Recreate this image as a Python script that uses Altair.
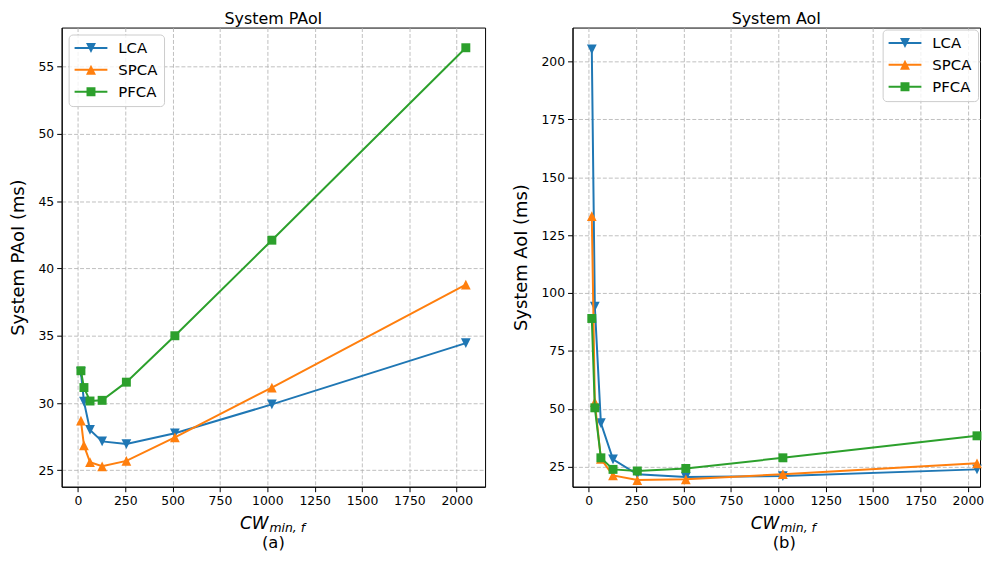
import altair as alt
import pandas as pd

# ---------------- data ----------------
cw = [16, 32, 64, 128, 256, 512, 1024, 2048]
series = ["LCA", "SPCA", "PFCA"]
colors = ["#1f77b4", "#ff7f0e", "#2ca02c"]

paoi_lca = [32.3, 30.1, 28.0, 27.15, 26.95, 27.75, 29.9, 34.45]
paoi_spca = [28.7, 26.85, 25.6, 25.3, 25.7, 27.45, 31.15, 38.8]
paoi_pfca = [32.4, 31.15, 30.15, 30.2, 31.55, 35.0, 42.1, 56.4]

aoi_lca = [205.3, 94.1, 43.8, 28.1, 21.7, 20.5, 20.9, 23.8]
aoi_spca = [133.2, 52.9, 28.3, 21.2, 19.2, 19.5, 21.7, 26.4]
aoi_pfca = [89.0, 50.4, 28.8, 23.8, 23.1, 24.2, 28.8, 38.3]

x_ticks = [0, 250, 500, 750, 1000, 1250, 1500, 1750, 2000]
paoi_ticks = [25, 30, 35, 40, 45, 50, 55]
aoi_ticks = [25, 50, 75, 100, 125, 150, 175, 200]

FONT = "DejaVu Sans"

marker_shape = {"LCA": "M-1,-1L1,-1L0,1Z", "SPCA": "M0,-1L1,1L-1,1Z", "PFCA": "square"}
marker_size = {"LCA": 96, "SPCA": 96, "PFCA": 81}
bar = "M-3.3,-0.2L3.3,-0.2L3.3,0.2L-3.3,0.2Z"
legend_paths = [
    bar + "M-1,-1L1,-1L0,1Z",
    bar + "M0,-1L1,1L-1,1Z",
    bar + "M-0.9,-0.9L0.9,-0.9L0.9,0.9L-0.9,0.9Z",
]


def panel(vals, title, ytitle, ydomain, yticks, xdomain, width, height, lorient, loffset, sublabel):
    rows = []
    for s, v in zip(series, vals):
        for xv, yv in zip(cw, v):
            rows.append({"cw": xv, "v": yv, "series": s})
    df = pd.DataFrame(rows)
    base = alt.Chart(df)
    xscale = alt.Scale(domain=xdomain, nice=False, zero=False)
    yscale = alt.Scale(domain=ydomain, nice=False, zero=False)
    xaxis = alt.Axis(values=x_ticks, title=None, grid=True, format="d")
    yaxis = alt.Axis(values=yticks, title=ytitle, grid=True, format="d")
    x = alt.X("cw:Q", scale=xscale, axis=xaxis)
    y = alt.Y("v:Q", scale=yscale, axis=yaxis)
    cscale = alt.Scale(domain=series, range=colors)
    col = alt.Color("series:N", scale=cscale, legend=None)

    leg = alt.Legend(orient=lorient, offset=loffset, title=None, labelFont=FONT, labelFontSize=15,
                     labelColor="black", symbolSize=100, symbolStrokeWidth=0,
                     symbolOffset=9, labelOffset=20, rowPadding=6, padding=6,
                     strokeColor="#cccccc", fillColor="rgba(255,255,255,0.8)",
                     cornerRadius=4)
    # legend carrier: same series, drawn far outside the clipped plot area
    legend_layer = base.transform_calculate(off="datum.v + 100000").mark_point(
        filled=True, opacity=1, size=100, clip=True
    ).encode(
        x=x,
        y=alt.Y("off:Q", scale=yscale, axis=yaxis),
        color=alt.Color("series:N", scale=cscale, legend=leg),
        shape=alt.Shape("series:N", scale=alt.Scale(domain=series, range=legend_paths), legend=leg),
    )
    layers = [legend_layer]
    for s in series:
        sub = base.transform_filter(alt.datum.series == s)
        layers.append(sub.mark_line(strokeWidth=2).encode(x=x, y=y, color=col))
        layers.append(sub.mark_point(filled=True, opacity=1, shape=marker_shape[s],
                                     size=marker_size[s]).encode(x=x, y=y, color=col))
    one = alt.Data(values=[{"k": 1}])
    layers.append(alt.Chart(one).mark_text(text="CW", font=FONT, fontSize=17, fontStyle="italic",
                                           align="right", baseline="alphabetic", color="black")
                  .encode(x=alt.value(208), y=alt.value(505)))
    layers.append(alt.Chart(one).mark_text(text="min, f", font=FONT, fontSize=12.5, fontStyle="italic",
                                           align="left", baseline="alphabetic", color="black")
                  .encode(x=alt.value(209), y=alt.value(508)))
    layers.append(alt.Chart(one).mark_text(text=sublabel, font=FONT, fontSize=16.5,
                                           align="center", baseline="alphabetic", color="black")
                  .encode(x=alt.value(213), y=alt.value(524)))
    return alt.layer(*layers).properties(
        width=width, height=height,
        title=alt.TitleParams(title, font=FONT, fontSize=16, fontWeight="normal", anchor="middle",
                              frame="group", offset=1, color="black"),
    )


left = panel([paoi_lca, paoi_spca, paoi_pfca], "System PAoI", "System PAoI (ms)",
             [23.78, 57.9], paoi_ticks, [-85.6, 2149.6], 426, 462, "top-left", 7, "(a)")
right = panel([aoi_lca, aoi_spca, aoi_pfca], "System AoI", "System AoI (ms)",
              [16.3, 214.7], aoi_ticks, [-85.6, 2064], 410, 462, "top-right", 2, "(b)")

chart = alt.hconcat(left, right, spacing=26).resolve_scale(
    color="independent", shape="independent"
).configure(
    padding={"left": 1, "top": 0, "right": 0, "bottom": 0},
    background="white",
).configure_view(
    stroke="black", strokeWidth=1
).configure_axis(
    labelFont=FONT, labelFontSize=12.5, labelColor="black",
    tickColor="black", tickSize=5, tickWidth=1,
    domainColor="black", domainWidth=1,
    gridColor="#b0b0b0", gridDash=[4, 2], gridWidth=0.8,
    titleFont=FONT, titleFontSize=18, titleFontWeight="normal", titleColor="black",
    labelPadding=3, titlePadding=10,
)

chart.save("out.html", embed_options={"renderer": "svg", "actions": False})
